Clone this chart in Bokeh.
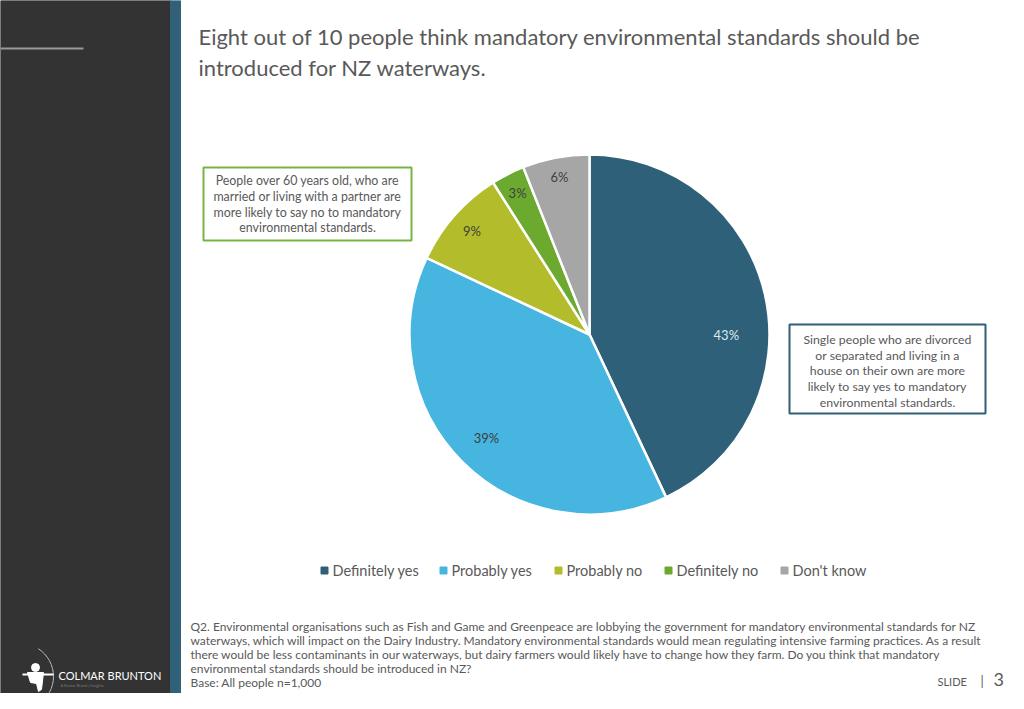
import numpy as np
from bokeh.plotting import figure
from bokeh.models import Range1d
from bokeh.core.properties import value
from bokeh.embed import file_html
from bokeh.resources import INLINE

# ---------------- data ----------------
categories = ["Definitely yes", "Probably yes", "Probably no", "Definitely no", "Don't know"]
shares = [43, 39, 9, 3, 6]
colors = ["#2E6079", "#46B5E0", "#B3BC2A", "#6BAA2F", "#A6A6A6"]
label_colors = ["#DCE9EF", "#404040", "#404040", "#404040", "#404040"]

title_lines = [
    "Eight out of 10 people think mandatory environmental standards should be",
    "introduced for NZ waterways.",
]
left_note = [
    "People over 60 years old, who are",
    "married or living with a partner are",
    "more likely to say no to mandatory",
    "environmental standards.",
]
right_note = [
    "Single people who are divorced",
    "or separated and living in a",
    "house on their own are more",
    "likely to say yes to mandatory",
    "environmental standards.",
]
footnote = [
    "Q2. Environmental organisations such as Fish and Game and Greenpeace are lobbying the government for mandatory environmental standards for NZ",
    "waterways, which will impact on the Dairy Industry. Mandatory environmental standards would mean regulating intensive farming practices. As a result",
    "there would be less contaminants in our waterways, but dairy farmers would likely have to change how they farm. Do you think that mandatory",
    "environmental standards should be introduced in NZ?",
    "Base: All people n=1,000",
]

# ---------------- layout ----------------
FONT = "Lato"
TXT = "#595959"
PAGE_H = 709


def Y(py):
    return PAGE_H - py


p = figure(width=1008, height=693, x_range=Range1d(0, 1008), y_range=Range1d(16, 709),
           output_backend="svg", toolbar_location=None, min_border=0,
           x_axis_location=None, y_axis_location=None,
           outline_line_color=None, background_fill_color="white", border_fill_color="white")
p.grid.visible = False

# sidebar
p.quad(left=0, right=170, bottom=0, top=709, color="#333333")
p.quad(left=170, right=180, bottom=0, top=709, color="#316179")
p.line([0, 83], [Y(48), Y(48)], line_color="#9A9A9A", line_width=2)

# logo
p.arc(x=20, y=Y(676), radius=33, start_angle=-1.0, end_angle=1.0, line_color="#BBBBBB", line_width=1)
p.circle(x=35, y=Y(667), radius=4, color="white")
p.patch([27, 43, 41, 38, 36, 30], [Y(672), Y(672), Y(689), Y(691), Y(683), Y(682)], color="white")
p.line([22, 53], [Y(674), Y(674)], line_color="white", line_width=2)
p.text(x=[58], y=[Y(675)], text=["COLMAR BRUNTON"], text_color="white", text_font=value(FONT),
       text_font_size="11px", text_baseline="middle")
p.text(x=[60], y=[Y(685)], text=["A Kantar Brand | Insights"], text_color="#777777", text_font=value(FONT),
       text_font_size="4px", text_baseline="middle")

# title
p.text(x=[198, 198], y=[Y(36), Y(67)], text=title_lines, text_color=TXT, text_font=value(FONT),
       text_font_size="22px", text_baseline="middle")

# pie
cx, cy, R = 589, Y(334), 180
vals = np.array(shares, dtype=float)
frac = vals / vals.sum()
cum_end = np.cumsum(frac)
cum_start = cum_end - frac
start = np.pi / 2 - 2 * np.pi * cum_end
end = np.pi / 2 - 2 * np.pi * cum_start
p.wedge(x=cx, y=cy, radius=R, start_angle=start, end_angle=end,
        fill_color=colors, line_color="white", line_width=2.5)

label_r = [0.76, 0.81, 0.87, 0.88, 0.89]
label_shift = np.radians([-13, 0, 0, 0, 0])
mid = np.pi / 2 - 2 * np.pi * (cum_start + frac / 2) + label_shift
lx = cx + R * np.array(label_r) * np.cos(mid)
ly = cy + R * np.array(label_r) * np.sin(mid)
p.text(x=lx, y=ly, text=[f"{v}%" for v in shares], text_color=label_colors, text_font=value(FONT),
       text_font_size="13px", text_align="center", text_baseline="middle")

# note boxes
p.quad(left=203, right=411, top=Y(167), bottom=Y(240), fill_color="white", line_color="#78B443", line_width=2)
p.text(x=[307] * 4, y=[Y(v) for v in (180, 196, 212, 227)], text=left_note, text_color=TXT,
       text_font=value(FONT), text_font_size="12.4px", text_align="center", text_baseline="middle")
p.quad(left=789, right=985, top=Y(324), bottom=Y(413), fill_color="white", line_color="#2E6079", line_width=2)
p.text(x=[887] * 5, y=[Y(v) for v in (339, 355, 370, 386, 402)], text=right_note, text_color=TXT,
       text_font=value(FONT), text_font_size="12.3px", text_align="center", text_baseline="middle")

# legend
leg_x = [324, 443, 558, 668, 784]
p.scatter(x=leg_x, y=[Y(570)] * 5, marker="square", size=7, color=colors)
p.text(x=[v + 8 for v in leg_x], y=[Y(570)] * 5, text=categories, text_color=TXT,
       text_font=value(FONT), text_font_size="14.5px", text_baseline="middle")

# footnote
p.text(x=[190] * 5, y=[Y(v) for v in (626, 640, 654, 668, 682)], text=footnote, text_color=TXT,
       text_font=value(FONT), text_font_size="12px", text_baseline="middle")
p.text(x=[937], y=[Y(681)], text=["SLIDE"], text_color=TXT, text_font=value(FONT),
       text_font_size="11px", text_baseline="middle")
p.text(x=[980], y=[Y(680)], text=["|"], text_color=TXT, text_font=value(FONT),
       text_font_size="13px", text_baseline="middle")
p.text(x=[993], y=[Y(679)], text=["3"], text_color=TXT, text_font=value(FONT),
       text_font_size="18px", text_baseline="middle")

open("out.html", "w").write(file_html(p, INLINE))
